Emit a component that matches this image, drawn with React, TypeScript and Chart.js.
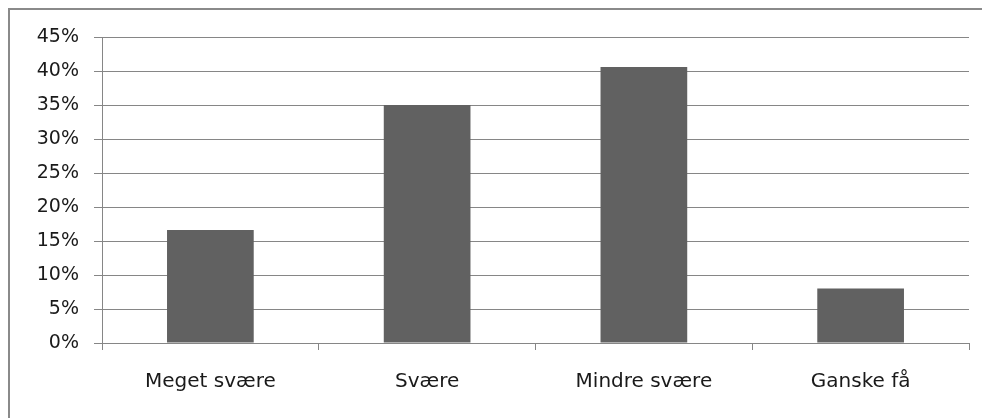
import React, { useEffect, useRef } from "react";
import { Chart, registerables } from "chart.js";

Chart.register(...registerables);

const categories: string[] = ["Meget svære", "Svære", "Mindre svære", "Ganske få"];
const values: number[] = [16.6, 35.0, 40.6, 8.0];
const yMax = 45;
const yStep = 5;

export default function App() {
  const ref = useRef<HTMLCanvasElement | null>(null);

  useEffect(() => {
    if (!ref.current) return;
    const chart = new Chart(ref.current, {
      type: "bar",
      data: {
        labels: categories,
        datasets: [
          {
            data: values,
            backgroundColor: "#616161",
            borderWidth: 0,
            categoryPercentage: 1,
            barPercentage: 0.4,
          },
        ],
      },
      options: {
        animation: false,
        responsive: false,
        devicePixelRatio: 1,
        layout: { padding: { top: 37, right: 13, bottom: 0, left: 0 } },
        plugins: { legend: { display: false }, tooltip: { enabled: false } },
        scales: {
          x: {
            offset: true,
            grid: {
              offset: true,
              drawOnChartArea: false,
              drawTicks: true,
              tickLength: 7,
              color: "#868686",
              lineWidth: 1,
            },
            border: { display: true, color: "#868686", width: 1 },
            ticks: {
              color: "#1a1a1a",
              font: { family: "DejaVu Sans", size: 20 },
              padding: 20,
              maxRotation: 0,
              autoSkip: false,
            },
            afterFit: (s: any) => {
              s.height = 75;
            },
          },
          y: {
            min: 0,
            max: yMax,
            ticks: {
              stepSize: yStep,
              color: "#1a1a1a",
              font: { family: "DejaVu Sans", size: 19 },
              padding: 15,
              callback: (v: any) => `${v}%`,
            },
            grid: {
              color: "#868686",
              lineWidth: 1,
              drawTicks: true,
              tickLength: 8,
            },
            border: { display: true, color: "#868686", width: 1 },
            afterFit: (s: any) => {
              s.width = 102;
            },
          },
        },
      },
    });
    return () => chart.destroy();
  }, []);

  return (
    <div
      style={{
        position: "fixed",
        left: 0,
        top: 0,
        width: 982,
        height: 418,
        overflow: "hidden",
        background: "#fff",
      }}
    >
      <div
        style={{
          position: "absolute",
          left: 8,
          top: 8,
          width: 1100,
          height: 600,
          borderLeft: "2px solid #8a8a8a",
          borderTop: "2px solid #8a8a8a",
          boxSizing: "border-box",
        }}
      />
      <canvas
        ref={ref}
        width={982}
        height={418}
        style={{ position: "absolute", left: 0, top: 0, width: 982, height: 418 }}
      />
    </div>
  );
}
